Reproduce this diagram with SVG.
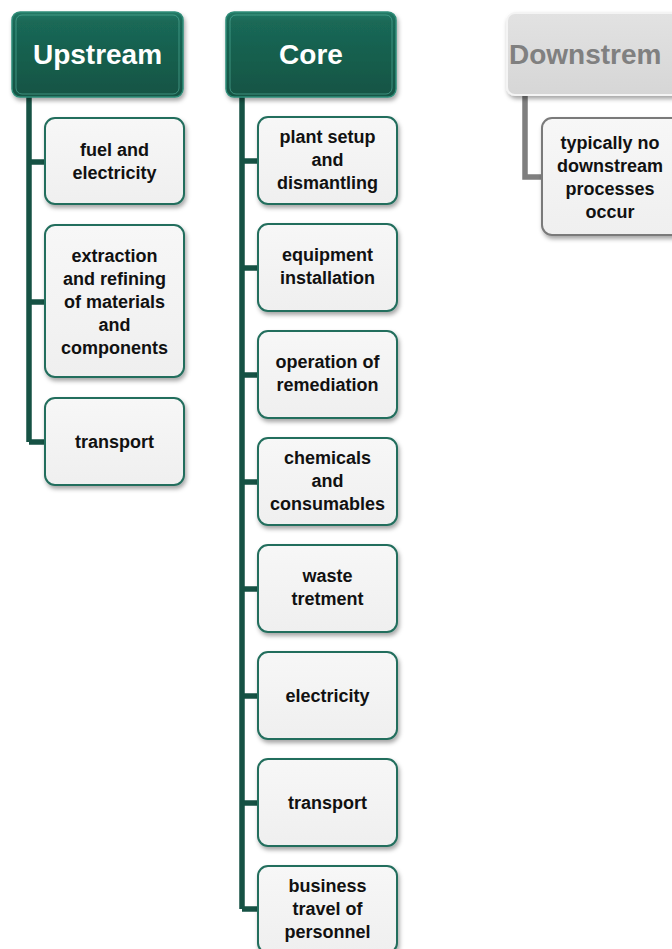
<svg xmlns="http://www.w3.org/2000/svg" width="672" height="949" viewBox="0 0 672 949">
<defs>
<filter id="sh" x="-10%" y="-10%" width="130%" height="130%">
<feDropShadow dx="1.5" dy="3" stdDeviation="2" flood-color="#000" flood-opacity="0.35"/>
</filter>
<linearGradient id="hg" x1="0" y1="0" x2="0" y2="1">
<stop offset="0" stop-color="#227a66"/>
<stop offset="0.12" stop-color="#1a6856"/>
<stop offset="1" stop-color="#135444"/>
</linearGradient>
<linearGradient id="cg" x1="0" y1="0" x2="0" y2="1">
<stop offset="0" stop-color="#f7f7f7"/>
<stop offset="1" stop-color="#efefef"/>
</linearGradient>
<linearGradient id="dg" x1="0" y1="0" x2="0" y2="1">
<stop offset="0" stop-color="#e2e2e2"/>
<stop offset="1" stop-color="#d6d6d6"/>
</linearGradient>
</defs>
<style>
.hd{fill:url(#hg);stroke:#2f8c78;stroke-width:1.5;filter:url(#sh)}
.hi{fill:none;stroke:#4fa896;stroke-width:1;opacity:0.7}
.hdd{fill:url(#dg);stroke:#f4f4f4;stroke-width:2;filter:url(#sh)}
.ch{fill:url(#cg);stroke:#236e5d;stroke-width:2;filter:url(#sh)}
.chd{fill:url(#cg);stroke:#7a7a7a;stroke-width:2;filter:url(#sh)}
.ht{font-family:"Liberation Sans",Arial,sans-serif;font-weight:bold;font-size:28px;fill:#fff;text-anchor:middle}
.htd{font-family:"Liberation Sans",Arial,sans-serif;font-weight:bold;font-size:28px;fill:#808080}
.ct{font-family:"Liberation Sans",Arial,sans-serif;font-weight:bold;font-size:18px;fill:#111;text-anchor:middle}
.cn{fill:none;stroke:#165244;stroke-width:5.5}
.cnd{fill:none;stroke:#7f7f7f;stroke-width:5.5}
</style>
<g id="connectors">
<path class="cn" d="M29 97 V442 M29 162 H46 M29 302 H46 M29 442 H46"/>
<path class="cn" d="M242 97 V909 M242 161 H259 M242 268 H259 M242 375 H259 M242 482 H259 M242 589 H259 M242 696 H259 M242 803 H259 M242 909 H259"/>
<path class="cnd" d="M525 95 V177 H543"/>
</g>
<g id="upstream">
<rect class="hd" x="12" y="12" width="171" height="85" rx="8"/>
<rect class="hi" x="16" y="15" width="163" height="79" rx="6"/>
<text class="ht" x="97.5" y="64">Upstream</text>
</g>
<g id="core">
<rect class="hd" x="226" y="12" width="170" height="85" rx="8"/>
<rect class="hi" x="230" y="15" width="162" height="79" rx="6"/>
<text class="ht" x="311" y="64">Core</text>
</g>
<g id="downstream">
<rect class="hdd" x="507" y="13" width="175" height="82" rx="8"/>
<text class="htd" x="509" y="64">Downstrem</text>
</g>
<g id="u1"><rect class="ch" x="45" y="118" width="139" height="86" rx="10"/>
<text class="ct" x="114.5" y="156">fuel and</text><text class="ct" x="114.5" y="179">electricity</text></g>
<g id="u2"><rect class="ch" x="45" y="225" width="139" height="152" rx="10"/>
<text class="ct" x="114.5" y="262">extraction</text><text class="ct" x="114.5" y="285">and refining</text><text class="ct" x="114.5" y="308">of materials</text><text class="ct" x="114.5" y="331">and</text><text class="ct" x="114.5" y="354">components</text></g>
<g id="u3"><rect class="ch" x="45" y="398" width="139" height="87" rx="10"/>
<text class="ct" x="114.5" y="448">transport</text></g>
<g id="c1"><rect class="ch" x="258" y="117" width="139" height="87" rx="10"/>
<text class="ct" x="327.5" y="143">plant setup</text><text class="ct" x="327.5" y="166">and</text><text class="ct" x="327.5" y="189">dismantling</text></g>
<g id="c2"><rect class="ch" x="258" y="224" width="139" height="87" rx="10"/>
<text class="ct" x="327.5" y="261">equipment</text><text class="ct" x="327.5" y="284">installation</text></g>
<g id="c3"><rect class="ch" x="258" y="331" width="139" height="87" rx="10"/>
<text class="ct" x="327.5" y="368">operation of</text><text class="ct" x="327.5" y="391">remediation</text></g>
<g id="c4"><rect class="ch" x="258" y="438" width="139" height="87" rx="10"/>
<text class="ct" x="327.5" y="464">chemicals</text><text class="ct" x="327.5" y="487">and</text><text class="ct" x="327.5" y="510">consumables</text></g>
<g id="c5"><rect class="ch" x="258" y="545" width="139" height="87" rx="10"/>
<text class="ct" x="327.5" y="582">waste</text><text class="ct" x="327.5" y="605">tretment</text></g>
<g id="c6"><rect class="ch" x="258" y="652" width="139" height="87" rx="10"/>
<text class="ct" x="327.5" y="702">electricity</text></g>
<g id="c7"><rect class="ch" x="258" y="759" width="139" height="87" rx="10"/>
<text class="ct" x="327.5" y="809">transport</text></g>
<g id="c8"><rect class="ch" x="258" y="866" width="139" height="87" rx="10"/>
<text class="ct" x="327.5" y="892">business</text><text class="ct" x="327.5" y="915">travel of</text><text class="ct" x="327.5" y="938">personnel</text></g>
<g id="d1"><rect class="chd" x="542" y="118" width="140" height="117" rx="10"/>
<text class="ct" x="610" y="149">typically no</text><text class="ct" x="610" y="172">downstream</text><text class="ct" x="610" y="195">processes</text><text class="ct" x="610" y="218">occur</text></g>
</svg>
